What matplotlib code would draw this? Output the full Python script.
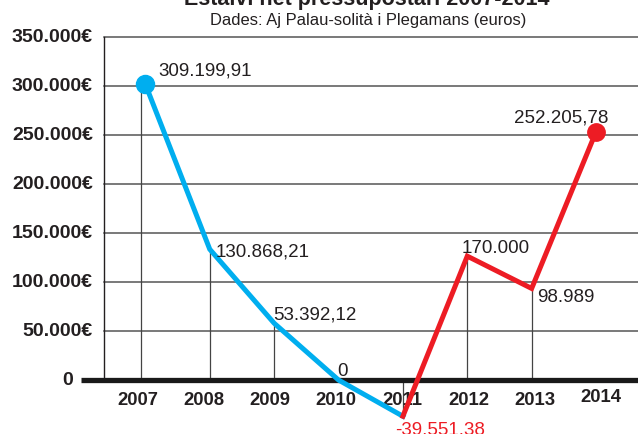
import matplotlib
matplotlib.use("Agg")
import matplotlib.pyplot as plt

plt.rcParams['font.family'] = ['Liberation Sans', 'DejaVu Sans']

# ---- data ----
years = [2007, 2008, 2009, 2010, 2011, 2012, 2013, 2014]
plotted_values = [302000, 133500, 58000, 0, -37000, 126500, 93500, 253500]
value_labels = ["309.199,91", "130.868,21", "53.392,12", "0", "-39.551.38",
                "170.000", "98.989", "252.205,78"]
ytick_values = [0, 50000, 100000, 150000, 200000, 250000, 300000, 350000]
ytick_labels = ["0", "50.000€", "100.000€", "150.000€", "200.000€",
                "250.000€", "300.000€", "350.000€"]
title = "Estalvi net pressupostari 2007-2014"
subtitle = "Dades: Aj Palau-solità i Plegamans (euros)"

BLUE = "#00aeef"
RED = "#ed1c24"
DARK = "#231f20"
GRID = "#555555"

W, H = 638, 434
fig = plt.figure(figsize=(W / 100, H / 100), dpi=100)
ax = fig.add_axes([104 / W, 0, 1 - 104 / W, (H - 37.3) / H])
ax.set_xlim(2006.357, 2014.652)
ax.set_ylim(-55150, 350000)
ax.axis('off')

# gridlines
for v in ytick_values[1:]:
    ax.plot([0, 1], [v, v], transform=ax.get_yaxis_transform(),
            color=GRID, lw=1.1, zorder=1, clip_on=False)
# left vertical line
ax.plot([0, 0], [0, 350000], transform=ax.get_yaxis_transform(),
        color=DARK, lw=1.0, zorder=1, clip_on=False)
# baseline
ax.plot([-23.3 / 534, 1], [0, 0], transform=ax.get_yaxis_transform(),
        color="#1a1a1a", lw=3.8, zorder=2, clip_on=False, solid_capstyle='butt')

# drop lines
for x, v in zip(years[:-1], plotted_values[:-1]):
    if v != 0:
        xx = x - 0.07 if x == years[0] else x
        ax.plot([xx, xx], [0, v], color="#444444", lw=0.9, zorder=1)

# lines
ax.plot(years[:5], plotted_values[:5], color=BLUE, lw=3.6, zorder=4,
        solid_joinstyle='miter')
ax.plot(years[4:], plotted_values[4:], color=RED, lw=3.6, zorder=4,
        solid_joinstyle='miter')
ax.plot(years[0], plotted_values[0], 'o', color=BLUE, ms=13, zorder=5)
ax.plot(years[-1], plotted_values[-1], 'o', color=RED, ms=12.5, zorder=5)

# y tick labels
for v, lab in zip(ytick_values, ytick_labels):
    xoff = -31 / 534 if v == 0 else -11 / 534
    ax.text(xoff, v, lab, transform=ax.get_yaxis_transform(), ha='right',
            va='center', fontsize=14, fontweight='bold', color=DARK,
            clip_on=False)

# year labels (slightly wider spacing than the points, as in the original)
mid = (years[0] + years[-1]) / 2
for x in years:
    dy = 3500 if x == years[-1] else 0
    lx = mid + (x - mid) * 1.028 - 0.02
    ax.text(lx, -21000 + dy, str(x), ha='center', va='center',
            fontsize=13.3, fontweight='bold', color=DARK, zorder=3)

# data labels: (dx pt, dy pt, ha, va, color)
label_style = [
    (9, 6.2, 'left', 'baseline', DARK),
    (4.0, -5.3, 'left', 'baseline', DARK),
    (-0.8, 2.4, 'left', 'baseline', DARK),
    (2.9, 2.9, 'center', 'baseline', DARK),
    (-5.7, -4.0, 'left', 'top', RED),
    (-3.8, 2.4, 'left', 'baseline', DARK),
    (3.8, -0.5, 'left', 'top', DARK),
    (8.6, 6.8, 'right', 'baseline', DARK),
]
for x, v, lab, (dx, dy, ha, va, c) in zip(years, plotted_values, value_labels, label_style):
    ax.annotate(lab, (x, v), xytext=(dx, dy), textcoords='offset points',
                ha=ha, va=va, fontsize=13.5, color=c, zorder=6,
                annotation_clip=False)

# titles
fig.text(366.5 / W, 1 - 4.5 / H, title, ha='center', va='baseline',
         fontsize=15.5, fontweight='bold', color=DARK)
fig.text(368.5 / W, 1 - 25.5 / H, subtitle, ha='center', va='baseline',
         fontsize=11.9, color=DARK)

fig.savefig("out.png", dpi=100)
